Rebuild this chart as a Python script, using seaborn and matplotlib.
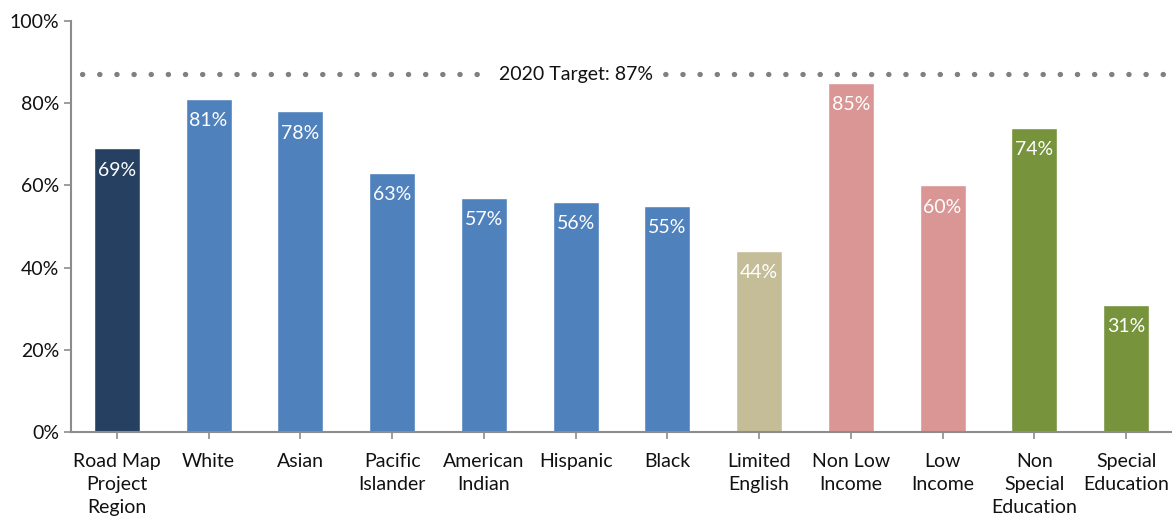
import matplotlib
matplotlib.use("Agg")
import matplotlib.pyplot as plt
import seaborn as sns
import pandas as pd

# data
categories = ["Road Map\nProject\nRegion", "White", "Asian", "Pacific\nIslander",
              "American\nIndian", "Hispanic", "Black", "Limited\nEnglish",
              "Non Low\nIncome", "Low\nIncome", "Non\nSpecial\nEducation", "Special\nEducation"]
values = [69, 81, 78, 63, 57, 56, 55, 44, 85, 60, 74, 31]
colors = ["#264061", "#4F81BD", "#4F81BD", "#4F81BD", "#4F81BD", "#4F81BD", "#4F81BD",
          "#C4BD97", "#D99694", "#D99694", "#77933C", "#77933C"]
target = 87
target_label = "2020 Target: 87%"

sns.set_style("white")
plt.rcParams["font.family"] = ["Lato", "DejaVu Sans"]

df = pd.DataFrame({"group": categories, "pct": values})

fig = plt.figure(figsize=(11.72, 5.21), dpi=100)
ax = fig.add_axes([71 / 1172, 1 - 432 / 521, 1101 / 1172, 411 / 521])

sns.barplot(data=df, x="group", y="pct", hue="group", palette=colors,
            legend=False, width=0.5, saturation=1, ax=ax)

# target line with a gap for the label
ax.axhline(target, xmin=0.01, xmax=1, color="#808080", linewidth=3.8,
           linestyle=(0, (0.05, 3.2)), dash_capstyle="round", zorder=1)
ax.text(5, target, target_label, ha="center", va="center", fontsize=14, color="#111111",
        bbox=dict(facecolor="white", edgecolor="none", pad=7), zorder=2)

# value labels inside the bars
for i, v in enumerate(values):
    ax.text(i, v - 3.2, f"{v}%", ha="center", va="top", color="white", fontsize=14)

ax.set_ylim(0, 100)
ax.set_xlim(-0.5, len(categories) - 0.5)
ax.set_yticks(range(0, 101, 20))
ax.set_yticklabels([f"{t}%" for t in range(0, 101, 20)])
ax.set_xlabel("")
ax.set_ylabel("")

for s in ["top", "right"]:
    ax.spines[s].set_visible(False)
for s in ["left", "bottom"]:
    ax.spines[s].set_color("#8c8c8c")
    ax.spines[s].set_linewidth(1.5)
ax.tick_params(axis="both", which="both", direction="out", length=5, width=1.2,
               color="#8c8c8c", labelsize=14, labelcolor="#111111", bottom=True, left=True)
ax.tick_params(axis="x", pad=10)
for lbl in ax.get_xticklabels():
    lbl.set_linespacing(1.45)

fig.savefig("out.png", dpi=100)
